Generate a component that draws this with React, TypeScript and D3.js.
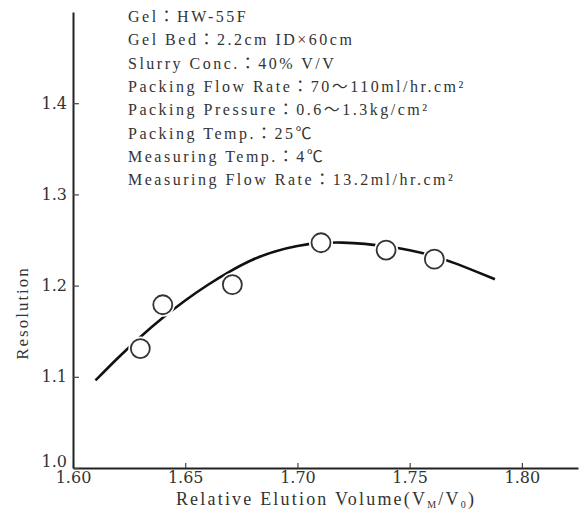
import React, { useEffect, useRef } from 'react'
import * as d3 from 'd3'

// measured points (open circles)
const pointX = [1.630, 1.640, 1.671, 1.7105, 1.7395, 1.761]
const pointY = [1.131, 1.179, 1.201, 1.247, 1.239, 1.229]

// fitted curve
const curveX = [1.61, 1.62, 1.63, 1.64, 1.65, 1.66, 1.67, 1.68, 1.69, 1.70, 1.71, 1.72, 1.73, 1.74, 1.75, 1.76, 1.77, 1.78, 1.788]
const curveY = [1.096, 1.121, 1.144, 1.165, 1.184, 1.201, 1.216, 1.229, 1.238, 1.244, 1.247, 1.2475, 1.246, 1.243, 1.239, 1.233, 1.225, 1.215, 1.207]

const xTicks = [1.60, 1.65, 1.70, 1.75, 1.80]
const yTicks = [1.0, 1.1, 1.2, 1.3, 1.4]

const notes = [
  'Gel：HW-55F',
  'Gel Bed：2.2cm ID×60cm',
  'Slurry Conc.：40% V/V',
  'Packing Flow Rate：70～110ml/hr.cm²',
  'Packing Pressure：0.6～1.3kg/cm²',
  'Packing Temp.：25℃',
  'Measuring Temp.：4℃',
  'Measuring Flow Rate：13.2ml/hr.cm²',
]

const W = 582
const H = 520
const FONT = '"Liberation Serif", "Noto Sans CJK JP", serif'
const NUMFONT = '"DejaVu Serif", serif'

const App = () => {
  const svgRef = useRef<SVGSVGElement>(null)

  useEffect(() => {
    const svg = d3.select(svgRef.current)
    svg.selectAll('*').remove()

    const x = d3.scaleLinear().domain([1.60, 1.825]).range([73, 578])
    const y = d3.scaleLinear().domain([1.0, 1.5]).range([468, 12])

    svg.append('rect').attr('width', W).attr('height', H).attr('fill', '#fff')

    // axes
    const gx = svg.append('g')
      .attr('transform', `translate(0,${y(1.0)})`)
      .call(d3.axisBottom(x).tickValues(xTicks).tickFormat(d3.format('.2f')).tickSizeInner(-5).tickSizeOuter(0).tickPadding(4))
    gx.select('.domain').attr('stroke', '#222').attr('stroke-width', 2)
    gx.selectAll('.tick line').attr('stroke', '#444').attr('stroke-width', 1.2)
    gx.selectAll('.tick text').attr('font-family', NUMFONT).attr('font-size', 16).attr('fill', '#333')

    const gy = svg.append('g')
      .attr('transform', `translate(${x(1.60)},0)`)
      .call(d3.axisLeft(y).tickValues(yTicks).tickFormat(d3.format('.1f')).tickSizeInner(-6).tickSizeOuter(0).tickPadding(6))
    gy.select('.domain').attr('stroke', '#222').attr('stroke-width', 2)
    gy.selectAll('.tick line').attr('stroke', '#444').attr('stroke-width', 1.2)
    gy.selectAll('.tick text').attr('font-family', NUMFONT).attr('font-size', 16).attr('fill', '#333')
    // the 1.0 label sits a little higher, clear of 1.60
    gy.selectAll<SVGTextElement, number>('.tick text').filter(d => d === 1.0).attr('dy', '-0.1em')

    // axis titles
    const xt = svg.append('text')
      .attr('x', 326).attr('y', 505)
      .attr('text-anchor', 'middle')
      .attr('font-family', FONT).attr('font-size', 18).attr('fill', '#333')
      .attr('letter-spacing', 2.2)
    xt.append('tspan').text('Relative Elution Volume(V')
    xt.append('tspan').attr('font-size', 10).attr('dy', 3).text('M')
    xt.append('tspan').attr('dy', -3).text('/V')
    xt.append('tspan').attr('font-size', 10).attr('dy', 3).text('0')
    xt.append('tspan').attr('dy', -3).text(')')

    svg.append('text')
      .attr('transform', 'translate(28,313) rotate(-90)')
      .attr('text-anchor', 'middle')
      .attr('font-family', FONT).attr('font-size', 17).attr('fill', '#333')
      .attr('letter-spacing', 2)
      .text('Resolution')

    // notes
    svg.append('g').selectAll('text').data(notes).join('text')
      .attr('x', 128)
      .attr('y', (d, i) => 22 + i * 23.3)
      .attr('font-family', FONT).attr('font-size', 16).attr('fill', '#333')
      .attr('letter-spacing', 2.5)
      .text(d => d)

    // curve
    const line = d3.line<number>()
      .x((d, i) => x(curveX[i]))
      .y(d => y(d))
      .curve(d3.curveBasis)
    svg.append('path')
      .datum(curveY)
      .attr('d', line)
      .attr('fill', 'none')
      .attr('stroke', '#111')
      .attr('stroke-width', 2.6)

    // circles with a white halo
    const pts = pointX.map((v, i) => [v, pointY[i]])
    svg.append('g').selectAll('circle').data(pts).join('circle')
      .attr('cx', d => x(d[0])).attr('cy', d => y(d[1])).attr('r', 12)
      .attr('fill', '#fff')
    svg.append('g').selectAll('circle').data(pts).join('circle')
      .attr('cx', d => x(d[0])).attr('cy', d => y(d[1])).attr('r', 9.5)
      .attr('fill', '#fff').attr('stroke', '#333').attr('stroke-width', 1.8)
  }, [])

  return (
    <svg ref={svgRef} width={W} height={H} style={{ position: 'absolute', left: 0, top: 0 }} />
  )
}

export default App
